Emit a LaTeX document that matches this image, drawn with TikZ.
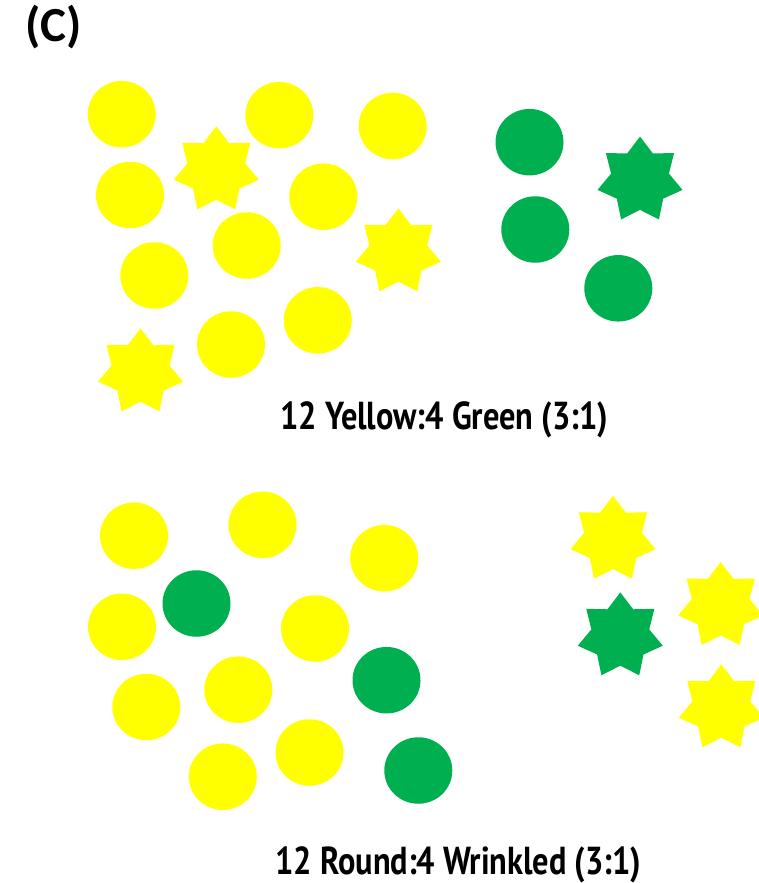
\documentclass[tikz,border=0pt]{standalone}
\usepackage{fontspec}
\setmainfont{Carlito}
\newfontfamily\ratiofont[FakeStretch=0.83]{PT Sans Bold}
\usetikzlibrary{shapes.geometric}
\definecolor{peayellow}{RGB}{255,255,0}
\definecolor{peagreen}{RGB}{0,176,80}

\begin{document}
\begin{tikzpicture}[x=0.5pt, y=-0.5pt,
    pea/.style={ellipse, minimum width=34pt, minimum height=33.25pt, inner sep=0pt},
    wrinkled/.style={star, star points=7, star point ratio=1.47, minimum size=43.6pt, inner sep=0pt},
    yel/.style={fill=peayellow},
    grn/.style={fill=peagreen},
    ratiolabel/.style={anchor=base west, inner sep=0pt, font=\ratiofont\fontsize{19.5}{19.5}\selectfont}
]
    \useasboundingbox (0,0) rectangle (759,883);
    \node[anchor=base west, inner sep=0pt, font=\bfseries\fontsize{24.5}{24.5}\selectfont] (panel) at (25,42) {(C)};

    % first cross: colour
    \node[pea, yel] (ya1) at (121.7,114.2) {};
    \node[pea, yel] (ya2) at (279.3,115.2) {};
    \node[pea, yel] (ya3) at (392.7,126) {};
    \node[pea, yel] (ya4) at (130,195) {};
    \node[pea, yel] (ya5) at (323.3,196.7) {};
    \node[pea, yel] (ya6) at (154.3,275.5) {};
    \node[pea, yel] (ya7) at (246.7,245.5) {};
    \node[pea, yel] (ya8) at (317.8,320.3) {};
    \node[pea, yel] (ya9) at (231,344.5) {};
    \node[wrinkled, yel] (ys1) at (216.3,170) {};
    \node[wrinkled, yel] (ys2) at (140.5,372) {};
    \node[wrinkled, yel] (ys3) at (398.3,252) {};
    \node[pea, grn] (ga1) at (529.5,142.2) {};
    \node[pea, grn] (ga2) at (535.3,229.5) {};
    \node[pea, grn] (ga3) at (618.3,288.3) {};
    \node[wrinkled, grn] (gs1) at (640,180.2) {};
    \node[ratiolabel] (colour) at (280,429.3) {12 Yellow:4 Green (3:1)};

    % second cross: shape
    \node[pea, yel] (rb1) at (134,535.7) {};
    \node[pea, yel] (rb2) at (262.5,524.8) {};
    \node[pea, yel] (rb3) at (384.2,558.2) {};
    \node[pea, yel] (rb4) at (122,626.8) {};
    \node[pea, yel] (rb5) at (315,628.5) {};
    \node[pea, yel] (rb6) at (146.3,707) {};
    \node[pea, yel] (rb7) at (238.3,689.7) {};
    \node[pea, yel] (rb8) at (222.8,776.7) {};
    \node[pea, yel] (rb9) at (309.5,752.5) {};
    \node[pea, grn] (rg1) at (196.5,603.5) {};
    \node[pea, grn] (rg2) at (386.5,680.2) {};
    \node[pea, grn] (rg3) at (418.3,770.5) {};
    \node[wrinkled, yel] (wb1) at (613,539.4) {};
    \node[wrinkled, grn] (wb2) at (620.3,636) {};
    \node[wrinkled, yel] (wb3) at (720.7,605.7) {};
    \node[wrinkled, yel] (wb4) at (721.3,708) {};
    \node[ratiolabel] (shape) at (275,874) {12 Round:4 Wrinkled (3:1)};
\end{tikzpicture}
\end{document}
